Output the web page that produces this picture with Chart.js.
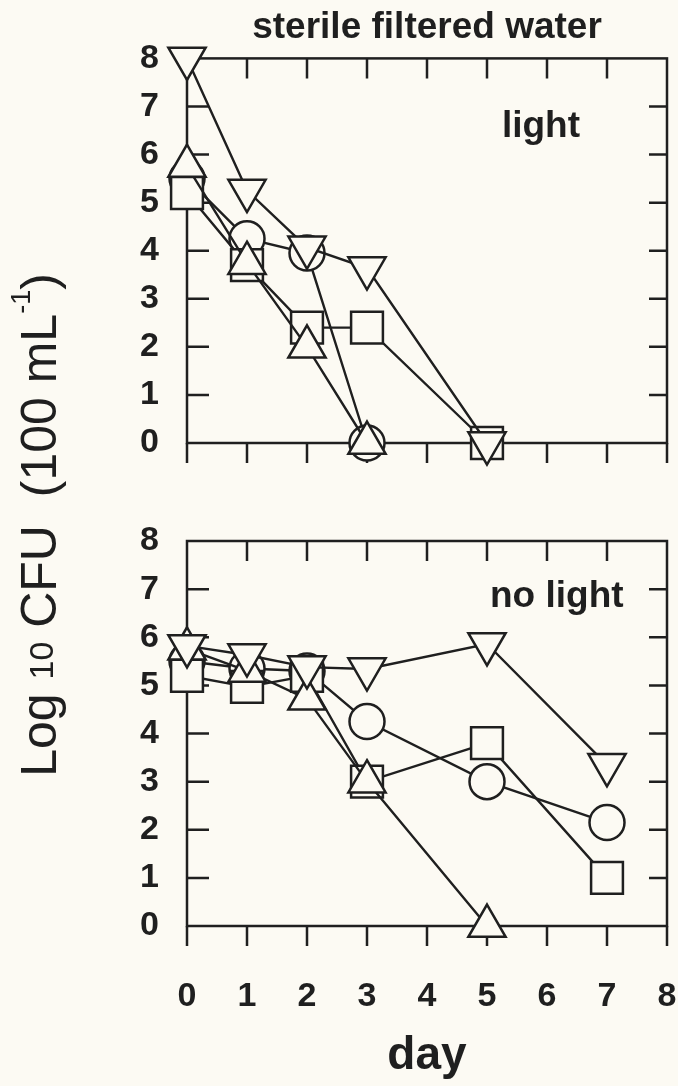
<!DOCTYPE html>
<html>
<head>
<meta charset="utf-8">
<script src="https://cdn.jsdelivr.net/npm/chart.js@4.4.1/dist/chart.umd.min.js"></script>
<style>
  html, body { margin: 0; padding: 0; background: #fcfaf3; }
  #wrap { position: relative; width: 678px; height: 1086px; }
  #wrap canvas { position: absolute; left: 0; top: 0; }
</style>
</head>
<body>
<div id="wrap">
  <canvas id="darkChart" width="678" height="1086"></canvas>
  <canvas id="lightChart" width="678" height="1086"></canvas>
</div>
<script>
// survival counts, log10 CFU per 100 mL, by day
const dayTicks = [0, 1, 2, 3, 4, 5, 6, 7, 8];
const logTicks = [0, 1, 2, 3, 4, 5, 6, 7, 8];

const lightDays = [0, 1, 2, 3, 5];
const lightDown = [8.0, 5.25, 4.07, 3.64, 0];
const lightUp = [5.76, 3.74, 2.0, 0, null];
const lightSquare = [5.2, 3.7, 2.4, 2.4, 0];
const lightCircle = [5.5, 4.25, 3.95, 0, null];

const darkDays = [0, 1, 2, 3, 5, 7];
const darkDown = [5.82, 5.63, 5.38, 5.34, 5.86, 3.35];
const darkUp = [5.76, 5.3, 4.72, 3.0, 0, null];
const darkSquare = [5.2, 4.97, 5.2, 3.0, 3.8, 1.0];
const darkCircle = [5.5, 5.35, 5.3, 4.25, 3.0, 2.15];

const INK = '#1f1f1f';
const PAPER = '#fcfaf3';
const FONT = "'Liberation Sans', Arial, Helvetica, sans-serif";

function series(label, days, values, style, rotation, radius) {
  return {
    label: label,
    data: days.map((d, i) => ({ x: d, y: values[i] })).filter(p => p.y !== null),
    borderColor: INK,
    borderWidth: 2.4,
    pointStyle: style,
    pointRotation: rotation,
    pointRadius: radius,
    pointBorderWidth: 2.5,
    pointBorderColor: INK,
    pointBackgroundColor: PAPER,
    tension: 0,
    clip: false
  };
}

// first dataset is painted last, so the down triangles sit on top
function panelSets(days, down, up, square, circle) {
  return [
    series('down', days, down, 'triangle', 180, 21.5),
    series('up', days, up, 'triangle', 0, 21.5),
    series('square', days, square, 'rect', 0, 22.5),
    series('circle', days, circle, 'circle', 0, 17.5)
  ];
}

// box around the plot with inward ticks, outward ticks under the day axis
const frameTicks = {
  id: 'frameTicks',
  beforeDatasetsDraw(chart) {
    const { ctx, chartArea: a, scales: { x, y } } = chart;
    ctx.save();
    ctx.strokeStyle = INK;
    ctx.lineWidth = 2.5;
    ctx.strokeRect(a.left, a.top, a.right - a.left, a.bottom - a.top);
    ctx.beginPath();
    dayTicks.forEach(v => {
      const px = x.getPixelForValue(v);
      ctx.moveTo(px, a.bottom);
      ctx.lineTo(px, a.bottom + 20);
      if (v > 0 && v < 8) {
        ctx.moveTo(px, a.top);
        ctx.lineTo(px, a.top + 20);
      }
    });
    logTicks.forEach(v => {
      if (v <= 0 || v >= 8) return;
      const py = y.getPixelForValue(v);
      ctx.moveTo(a.left, py);
      ctx.lineTo(a.left + 22, py);
      ctx.moveTo(a.right, py);
      ctx.lineTo(a.right - 18, py);
    });
    ctx.stroke();
    ctx.restore();
  }
};

// "light" / "no light" note inside each panel
const panelNote = {
  id: 'panelNote',
  afterDraw(chart, args, opts) {
    const { ctx, scales: { x, y } } = chart;
    ctx.save();
    ctx.fillStyle = INK;
    ctx.font = 'bold 37px ' + FONT;
    ctx.textAlign = opts.align;
    ctx.textBaseline = 'alphabetic';
    ctx.fillText(opts.text, x.getPixelForValue(opts.x), y.getPixelForValue(opts.y));
    ctx.restore();
  }
};

// rotated y title with the subscript 10 and the superscript -1
const yTitle = {
  id: 'yTitle',
  afterDraw(chart, args, opts) {
    const ctx = chart.ctx;
    const runs = [
      { t: 'Log ', size: 50, rise: 0 },
      { t: '10', size: 34, rise: 3 },
      { t: ' CFU  (100 mL', size: 50, rise: 0 },
      { t: '-1', size: 27, rise: 26 },
      { t: ')', size: 50, rise: 0 }
    ];
    ctx.save();
    ctx.fillStyle = INK;
    let total = 0;
    runs.forEach(r => {
      ctx.font = r.size + 'px ' + FONT;
      r.w = ctx.measureText(r.t).width;
      total += r.w;
    });
    ctx.translate(opts.x, opts.y);
    ctx.rotate(-Math.PI / 2);
    ctx.textBaseline = 'alphabetic';
    ctx.textAlign = 'left';
    let pos = -total / 2;
    runs.forEach(r => {
      ctx.font = r.size + 'px ' + FONT;
      ctx.fillText(r.t, pos, -r.rise);
      pos += r.w;
    });
    ctx.restore();
  }
};

const tickFont = { family: FONT, size: 34, weight: 'bold' };

// keep the plot box where the layout puts it, labels may overhang
function noOverhang(s) {
  s.paddingLeft = 0;
  s.paddingRight = 0;
  s.paddingTop = 0;
  s.paddingBottom = 0;
}

function yScale() {
  return {
    type: 'linear',
    min: 0,
    max: 8,
    afterBuildTicks: s => { s.ticks = logTicks.map(v => ({ value: v })); },
    afterFit: s => { s.width = 187; noOverhang(s); },
    grid: { display: false },
    border: { display: false },
    ticks: { color: INK, font: tickFont, padding: 20 }
  };
}

new Chart(document.getElementById('lightChart'), {
  type: 'line',
  data: { datasets: panelSets(lightDays, lightDown, lightUp, lightSquare, lightCircle) },
  options: {
    responsive: false,
    animation: false,
    events: [],
    layout: { autoPadding: false, padding: { left: 0, right: 11, top: 0, bottom: 643 } },
    plugins: {
      legend: { display: false },
      tooltip: { enabled: false },
      title: {
        display: true,
        text: 'sterile filtered water',
        fullSize: false,
        color: INK,
        font: { family: FONT, size: 37, weight: 'bold', lineHeight: 1.2 },
        padding: { top: 6, bottom: 8 }
      },
      panelNote: { text: 'light', x: 5.9, y: 6.36, align: 'center' }
    },
    scales: {
      x: { type: 'linear', display: false, min: 0, max: 8 },
      y: yScale()
    }
  },
  plugins: [frameTicks, panelNote]
});

new Chart(document.getElementById('darkChart'), {
  type: 'line',
  data: { datasets: panelSets(darkDays, darkDown, darkUp, darkSquare, darkCircle) },
  options: {
    responsive: false,
    animation: false,
    events: [],
    layout: { autoPadding: false, padding: { left: 0, right: 11, top: 541, bottom: 0 } },
    plugins: {
      legend: { display: false },
      tooltip: { enabled: false },
      panelNote: { text: 'no light', x: 5.05, y: 6.63, align: 'left' },
      yTitle: { x: 56, y: 525 }
    },
    scales: {
      x: {
        type: 'linear',
        min: 0,
        max: 8,
        afterBuildTicks: s => { s.ticks = dayTicks.map(v => ({ value: v })); },
        afterFit: s => { s.height = 160; noOverhang(s); },
        grid: { display: false },
        border: { display: false },
        ticks: { color: INK, font: tickFont, padding: 42, maxRotation: 0 },
        title: {
          display: true,
          text: 'day',
          color: INK,
          font: { family: FONT, size: 46, weight: 'bold', lineHeight: 1.2 },
          padding: { top: 0, bottom: 2 }
        }
      },
      y: yScale()
    }
  },
  plugins: [frameTicks, panelNote, yTitle]
});
</script>
</body>
</html>
